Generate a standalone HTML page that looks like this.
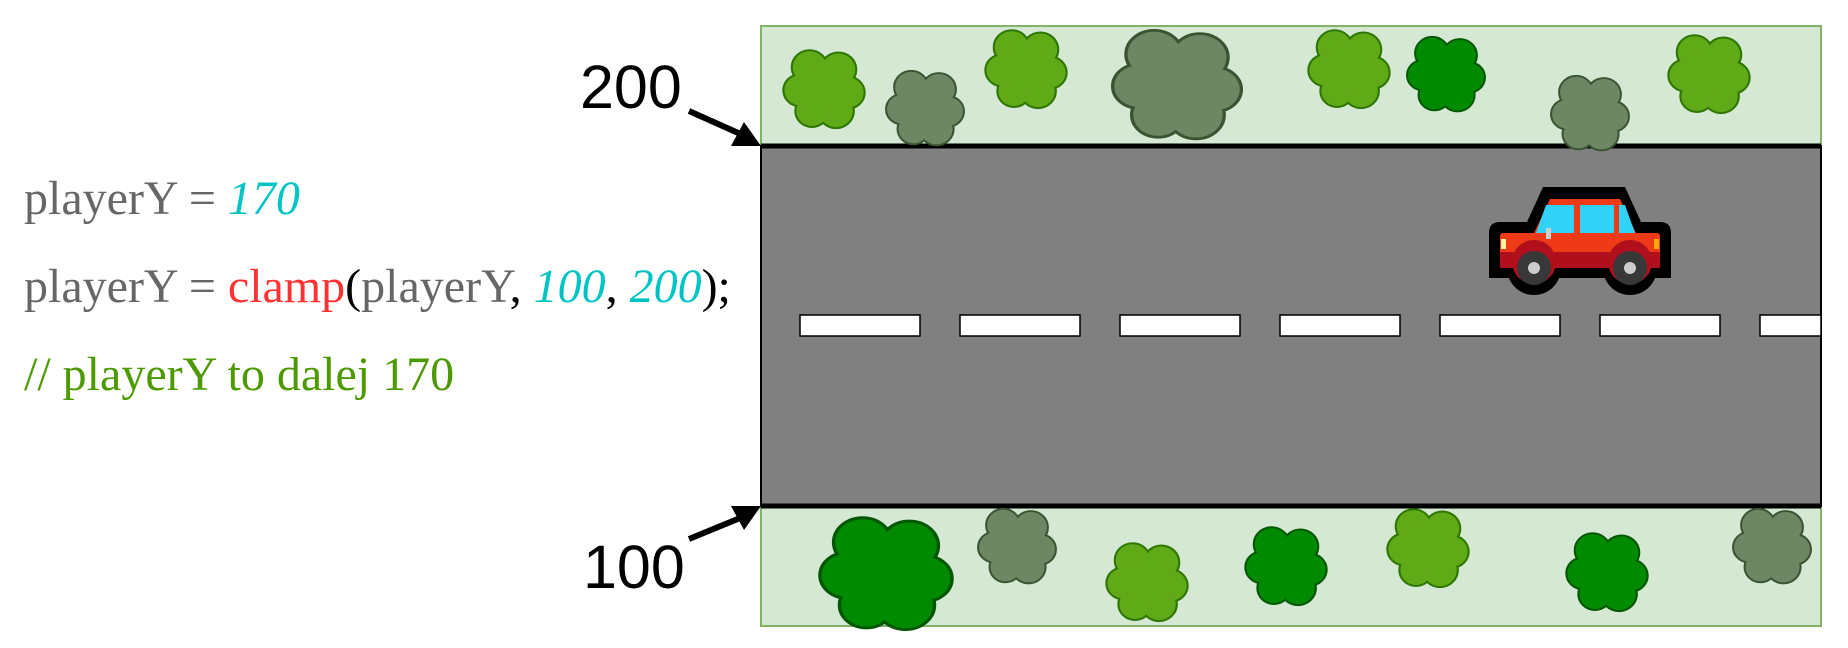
<!DOCTYPE html>
<html><head><meta charset="utf-8"><style>
html,body{margin:0;padding:0;background:#fff;width:1848px;height:648px;overflow:hidden}
</style></head><body>
<svg width="1848" height="648" viewBox="0 0 1848 648" xmlns="http://www.w3.org/2000/svg">
<defs>
<g id="tree">
 <g stroke-width="3.5">
  <circle cx="-12" cy="-18" r="14"/><circle cx="12" cy="-16" r="14"/><circle cx="20" cy="4" r="13"/><circle cx="10" cy="20" r="14"/><circle cx="-10" cy="20" r="13"/><circle cx="-20" cy="2" r="13"/><circle cx="0" cy="0" r="20"/>
 </g>
 <g stroke="none">
  <circle cx="-12" cy="-18" r="14"/><circle cx="12" cy="-16" r="14"/><circle cx="20" cy="4" r="13"/><circle cx="10" cy="20" r="14"/><circle cx="-10" cy="20" r="13"/><circle cx="-20" cy="2" r="13"/><circle cx="0" cy="0" r="20"/>
 </g>
</g>
</defs>
<rect x="761" y="26" width="1060" height="600" fill="#d5e8d4" stroke="#82b366" stroke-width="2"/>
<rect x="761" y="146" width="1060" height="360" fill="#808080" stroke="#000" stroke-width="2"/>
<line x1="761" y1="146" x2="1821" y2="146" stroke="#000" stroke-width="5"/>
<line x1="761" y1="506" x2="1821" y2="506" stroke="#000" stroke-width="5"/>
<g fill="#fff" stroke="#000" stroke-width="1.5">
<rect x="800" y="315" width="120" height="21"/><rect x="960" y="315" width="120" height="21"/><rect x="1120" y="315" width="120" height="21"/><rect x="1280" y="315" width="120" height="21"/><rect x="1440" y="315" width="120" height="21"/><rect x="1600" y="315" width="120" height="21"/><rect x="1760" y="315" width="61" height="21"/>
</g>
<g fill="#60a917" stroke="#2d7600">
<use href="#tree" transform="translate(824,88) scale(1.2,1.15)"/>
<use href="#tree" transform="translate(1026,68) scale(1.2,1.15)"/>
<use href="#tree" transform="translate(1349,68) scale(1.2,1.15)"/>
<use href="#tree" transform="translate(1709,73) scale(1.2,1.15)"/>
<use href="#tree" transform="translate(1147,581) scale(1.2,1.15)"/>
<use href="#tree" transform="translate(1428,547) scale(1.2,1.15)"/>
</g>
<g fill="#6d8764" stroke="#3a5431">
<use href="#tree" transform="translate(925,107) scale(1.15,1.1)"/>
<use href="#tree" transform="translate(1177,83) scale(1.9,1.6)"/>
<use href="#tree" transform="translate(1590,112) scale(1.15,1.1)"/>
<use href="#tree" transform="translate(1017,545) scale(1.15,1.1)"/>
<use href="#tree" transform="translate(1772,545) scale(1.15,1.1)"/>
</g>
<g fill="#008a00" stroke="#005700">
<use href="#tree" transform="translate(1446,73) scale(1.15,1.1)"/>
<use href="#tree" transform="translate(886,572) scale(1.95,1.65)"/>
<use href="#tree" transform="translate(1286,565) scale(1.2,1.15)"/>
<use href="#tree" transform="translate(1607,571) scale(1.2,1.15)"/>
</g>
<!-- car -->
<g>
<path d="M1543 187 L1625 187 L1641 222 L1660 222 Q1671 222 1671 233 L1671 278 L1489 278 L1489 233 Q1489 222 1500 222 L1527 222 Z" fill="#000"/>
<circle cx="1534" cy="268" r="27" fill="#000"/><circle cx="1630" cy="268" r="27" fill="#000"/>
<path d="M1550 199 L1620 199 L1636 233 L1534 233 Z" fill="#f03a17"/>
<path d="M1536 233 L1546 205 L1574 205 L1574 233 Z" fill="#31d2f7"/>
<rect x="1580" y="205" width="34" height="28" fill="#31d2f7"/>
<path d="M1619 205 L1625 205 L1635 233 L1619 233 Z" fill="#31d2f7"/>
<rect x="1500" y="233" width="160" height="35" rx="3" fill="#f03a17"/>
<rect x="1500" y="252" width="160" height="16" fill="#b0101c"/>
<circle cx="1534" cy="262" r="22" fill="#b0101c"/><circle cx="1630" cy="262" r="22" fill="#b0101c"/>
<rect x="1546" y="228" width="5" height="11" fill="#ccc"/>
<rect x="1501" y="239" width="5" height="10" fill="#fff3a0"/>
<rect x="1654" y="239" width="5" height="10" fill="#ffaa00"/>
<circle cx="1534" cy="268" r="17" fill="#383838"/><circle cx="1630" cy="268" r="17" fill="#383838"/>
<circle cx="1534" cy="268" r="6" fill="#ccc"/><circle cx="1630" cy="268" r="6" fill="#ccc"/>
</g>
<!-- arrows -->
<g stroke="#000" stroke-width="6" fill="none"><line x1="689" y1="111" x2="745" y2="136"/><line x1="689" y1="539" x2="745" y2="516"/></g>
<path d="M761 146 L744 122 L731 146 Z" fill="#000"/>
<path d="M761 506 L731 506 L744 530 Z" fill="#000"/>
<g font-family="Liberation Sans, sans-serif" font-size="61" fill="#000">
<text x="580" y="108">200</text><text x="583" y="588">100</text>
</g>
<g font-family="Liberation Serif, serif" font-size="48" fill="#666666">
<text x="24" y="214">playerY = <tspan fill="#00c4c4" font-style="italic">170</tspan></text>
<text x="24" y="302">playerY = <tspan fill="#ff3333">clamp</tspan><tspan fill="#000">(</tspan>playerY<tspan fill="#000">, </tspan><tspan fill="#00c4c4" font-style="italic">100</tspan><tspan fill="#000">, </tspan><tspan fill="#00c4c4" font-style="italic">200</tspan><tspan fill="#000">);</tspan></text>
<text x="24" y="390" fill="#4d9900">// playerY to dalej 170</text>
</g>
</svg>
</body></html>
